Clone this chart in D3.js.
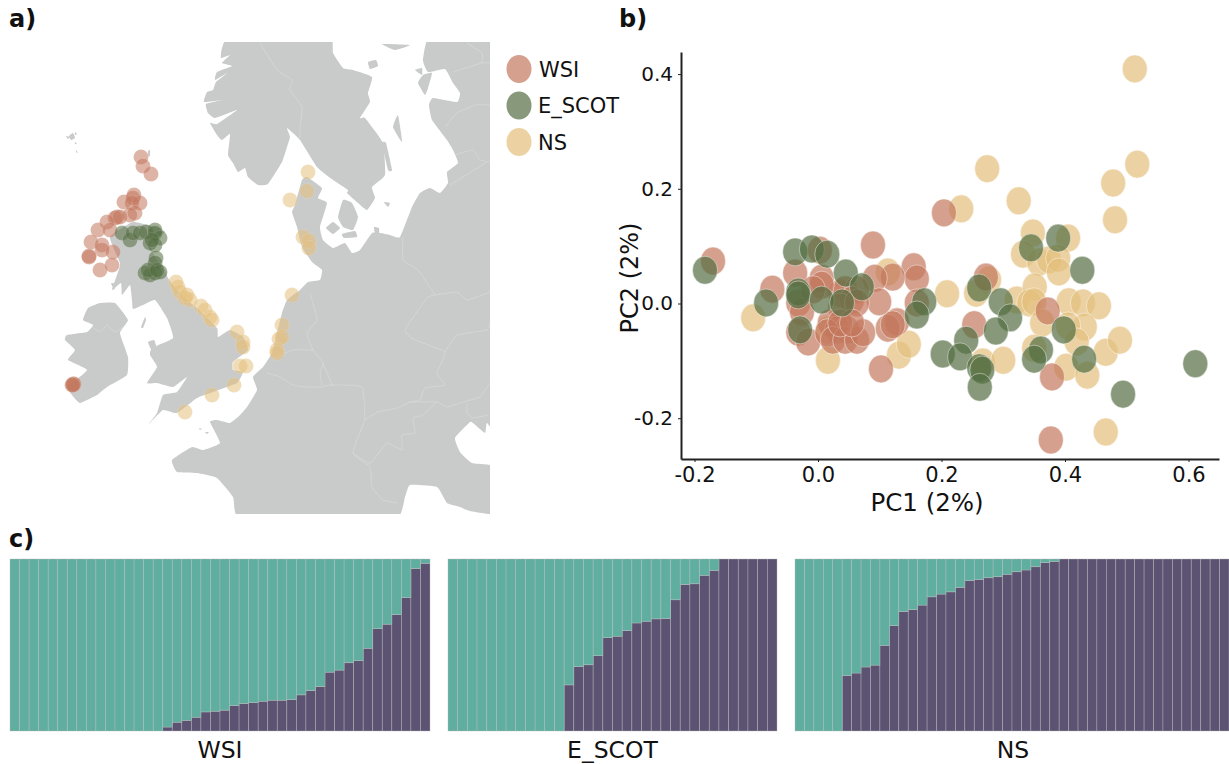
<!DOCTYPE html>
<html>
<head>
<meta charset="utf-8">
<script src="https://cdn.jsdelivr.net/npm/d3@7"></script>
<style>
  html, body { margin: 0; padding: 0; background: #fff; }
  text { font-family: "DejaVu Sans", sans-serif; fill: #111; }
</style>
</head>
<body>
<svg id="fig" width="1229" height="764"></svg>
<script>
// groups
const groupNames = ['WSI', 'E_SCOT', 'NS'];
const groupColors = ['#c3775c', '#546d41', '#e4bf7c'];

// land outlines, in map grid units
const landScandinavia = [[222,-8],[212,6],[211,16],[220,13],[212,21],[222,24],[207,30],[205,38],[217,31],[206,40],[203,48],[197,50],[194,60],[212,58],[196,62],[198,71],[205,76],[227,68],[207,82],[200,81],[207,93],[212,98],[220,92],[218,113],[223,121],[228,130],[235,126],[238,135],[248,143],[258,142],[272,120],[277,105],[280,95],[277,86],[290,98],[307,125],[323,138],[338,148],[337,151],[348,161],[357,168],[365,156],[362,145],[375,133],[373,101],[355,76],[350,76],[360,60],[358,51],[362,35],[343,28],[333,26],[323,11],[318,-8]];
const landContinent = [[421,-8],[413,18],[418,30],[435,27],[443,41],[450,51],[447,60],[423,56],[419,63],[422,78],[437,98],[443,108],[448,121],[437,130],[438,141],[430,151],[420,146],[410,151],[402,165],[390,195],[380,193],[370,191],[362,191],[350,208],[342,211],[335,201],[323,206],[313,198],[310,185],[317,161],[308,156],[312,146],[297,135],[292,138],[285,163],[282,170],[287,185],[292,205],[302,220],[312,228],[310,238],[298,240],[290,248],[277,258],[272,271],[267,291],[262,311],[253,325],[243,335],[247,348],[237,365],[230,373],[220,381],[207,378],[200,380],[210,401],[193,408],[182,405],[162,418],[167,430],[187,431],[207,436],[223,455],[233,480],[382,480],[395,455],[400,443],[427,445],[437,461],[450,465],[460,469],[492,472],[492,426],[462,421],[450,410],[445,396],[460,380],[463,381],[475,391],[477,381],[492,381],[492,-8]];
const landBritain = [[123,180],[148,186],[155,190],[140,203],[148,220],[155,228],[158,236],[167,248],[177,258],[187,266],[207,286],[208,295],[220,288],[233,295],[238,308],[223,320],[223,328],[233,330],[227,341],[203,350],[187,356],[167,371],[153,368],[138,383],[147,371],[153,353],[167,350],[177,335],[163,345],[147,341],[137,341],[147,325],[140,313],[142,306],[163,296],[157,276],[145,258],[133,263],[123,267],[122,258],[120,243],[112,253],[111,241],[102,248],[108,230],[110,221],[100,195]];
const landIreland = [[90,261],[105,261],[118,278],[110,291],[118,315],[117,333],[97,345],[87,353],[70,361],[62,353],[58,345],[77,328],[58,318],[65,308],[55,298],[57,293],[77,290],[83,283],[73,278],[78,266]];
const landIslands = [
  [[59,94],[63,91],[65,96],[61,98]], [[56,94],[60,95],[58,97]], [[65,90],[67,92],[65,93]], [[65,100],[67,102],[65,102]], [[66,108],[68,111],[66,110]],
  [[138,109],[140,108],[140,114],[138,114]], [[131,285],[135,275],[136,278],[133,286]], [[138,300],[144,298],[146,304],[141,307]],
  [[189,386],[192,387],[190,388]], [[195,390],[199,390],[197,392]],
  [[328,175],[333,158],[342,161],[348,175],[343,188],[333,185]], [[316,186],[323,180],[330,186],[323,192]], [[332,192],[345,189],[347,195],[334,196]],
  [[383,85],[388,73],[392,100]], [[372,101],[376,101],[382,128],[378,128]], [[374,160],[380,161],[378,165]], [[364,185],[369,186],[369,193],[365,192]],
  [[408,41],[413,33],[422,31],[418,46],[415,53]], [[405,28],[412,26],[412,33]], [[358,20],[366,18],[368,24],[360,27]], [[372,2],[400,3],[385,8]], [[101,241],[106,242],[104,248]]
];
const borderLines = [
  [[250,1],[267,28],[282,38],[280,48],[292,65],[290,85],[290,96]],
  [[457,1],[472,11],[472,21]], [[443,30],[472,21],[480,21]],
  [[435,85],[447,71],[465,63],[480,63]], [[445,113],[463,108],[470,118],[480,120]], [[440,143],[477,120]],
  [[393,195],[393,218],[408,228],[425,253]],
  [[425,253],[417,256],[395,288],[405,298],[435,310],[427,331],[435,343],[415,346],[410,358],[400,360],[387,366],[368,370],[355,378]],
  [[425,253],[447,250],[457,258],[480,250]], [[435,310],[447,293],[477,288],[480,280]],
  [[400,360],[427,360],[437,365],[453,360],[470,355],[480,341]],
  [[355,378],[343,411],[360,425],[362,445],[373,458],[387,461]],
  [[343,411],[360,421],[377,401],[392,408],[392,393],[405,391],[403,376],[413,373],[427,360]],
  [[457,361],[457,371],[463,376],[478,373]],
  [[257,331],[270,335],[283,343],[297,345],[310,345],[322,343],[352,345],[355,378]],
  [[300,251],[302,258],[307,278],[297,291],[303,308],[313,321],[310,330],[312,343]], [[313,321],[322,343]],
  [[263,316],[283,308],[303,308]],
  [[82,285],[90,290],[97,283],[105,290],[113,285]]
];

// sample locations, in map grid units
const mapWsi = [[131,115],[133,124],[141,132],[124,153],[114,160],[123,156],[130,161],[122,161],[125,171],[120,173],[107,175],[105,176],[97,180],[110,175],[88,188],[100,188],[81,200],[92,203],[92,208],[103,210],[79,214],[79,215],[90,228],[102,223],[63,342],[64,342],[62,343],[63,343]];
const mapEscot = [[112,191],[120,198],[123,191],[130,191],[136,190],[145,188],[145,191],[150,196],[140,201],[145,203],[142,198],[146,216],[145,221],[135,231],[140,233],[145,231],[150,230],[138,228],[147,228]];
const mapNs = [[166,240],[168,245],[170,250],[175,256],[180,258],[177,253],[191,264],[195,268],[200,275],[202,278],[227,290],[233,300],[233,305],[230,324],[236,324],[224,343],[202,353],[175,370],[282,253],[272,283],[269,297],[272,295],[267,308],[267,311],[298,130],[297,149],[280,158],[293,195],[299,199],[299,206]];

// PCA scores [PC1, PC2]
const pcaWsi = [[-.170,.074],[-.074,.025],[-.037,.053],[.003,.093],[.089,.102],[.204,.158],[.155,.064],[.160,.043],[.121,.046],[.092,.044],[.099,.003],[.006,.044],[-.032,.001],[-.026,-.015],[-.032,-.050],[-.016,-.067],[.160,.001],[.128,-.032],[.113,-.043],[.121,-.037],[.102,-.114],[.036,.018],[.044,.024],[.063,.024],[.055,.006],[.036,-.006],[.063,.001],[.019,-.034],[.031,-.046],[.047,-.046],[.015,-.051],[.024,-.064],[.044,-.064],[.063,-.064],[.073,-.051],[.036,-.034],[.055,-.034],[.006,.032],[-.008,.024],[.272,.046],[.253,-.037],[.372,-.013],[.379,-.128],[.377,-.238]];
const pcaEscot = [[-.183,.058],[-.084,.001],[-.037,.090],[-.010,.095],[.015,.086],[.045,.053],[.071,.029],[-.032,.020],[-.032,.015],[.006,.006],[-.029,-.046],[.039,.001],[.172,.003],[.160,-.020],[.261,.027],[.296,.003],[.311,-.025],[.288,-.048],[.240,-.064],[.202,-.088],[.230,-.093],[.261,-.112],[.266,-.116],[.262,-.146],[.345,.097],[.389,.114],[.428,.058],[.398,-.046],[.361,-.081],[.350,-.097],[.431,-.097],[.494,-.158],[.611,-.105]];
const pcaNs = [[-.105,-.025],[.016,-.099],[.113,.055],[.131,-.090],[.147,-.071],[.209,.017],[.016,-.046],[.232,.165],[.274,.235],[.325,.179],[.348,.123],[.405,.114],[.332,.086],[.358,.072],[.374,.076],[.389,.079],[.390,.055],[.277,.041],[.256,.018],[.322,.006],[.351,.029],[.342,.001],[.350,.003],[.406,.003],[.429,.001],[.455,-.004],[.363,-.034],[.432,-.041],[.405,-.039],[.419,-.067],[.350,-.078],[.466,-.085],[.489,-.064],[.402,-.111],[.436,-.125],[.267,-.102],[.300,-.099],[.466,-.224],[.481,.146],[.478,.210],[.517,.243],[.513,.409]];
const pcTicksX = [-.2, 0, .2, .4, .6];
const pcTicksY = [-.2, 0, .2, .4];

// admixture proportions of the second cluster, sorted per individual
const admixWsi = [0,0,0,0,0,0,0,0,0,0,0,0,0,0,0,0,.023,.051,.062,.080,.111,.115,.121,.148,.160,.165,.173,.179,.179,.183,.210,.235,.259,.342,.354,.397,.409,.481,.595,.621,.677,.776,.944,.975];
const admixEscot = [0,0,0,0,0,0,0,0,0,0,0,0,.268,.375,.385,.438,.543,.551,.584,.628,.638,.652,.654,.763,.852,.856,.905,.934,1,1,1,1,1,1];
const admixNs = [0,0,0,0,0,.323,.337,.372,.383,.498,.613,.695,.706,.732,.780,.796,.809,.835,.875,.881,.891,.897,.911,.926,.936,.955,.979,.986,1,1,1,1,1,1,1,1,1,1,1,1,1,1,1,1,1,1];

const svg = d3.select('#fig');

function addTag(label, x, y) {
  svg.append('text').attr('x', x).attr('y', y)
    .style('font-size', '24px').style('font-weight', 'bold').text(label);
}
addTag('a)', 9, 27);
addTag('b)', 619, 27);
addTag('c)', 9, 547);

function drawMap() {
  const mapX = d3.scaleLinear().domain([0, 480]).range([10, 490]);
  const mapY = d3.scaleLinear().domain([0, 472]).range([42, 514]);
  const coast = d3.line().x(d => mapX(d[0])).y(d => mapY(d[1])).curve(d3.curveCardinalClosed.tension(0.6));
  const border = d3.line().x(d => mapX(d[0])).y(d => mapY(d[1])).curve(d3.curveCardinal.tension(0.6));

  svg.append('clipPath').attr('id', 'mapClip').append('rect')
    .attr('x', mapX(0)).attr('y', mapY(0))
    .attr('width', mapX(480) - mapX(0)).attr('height', mapY(472) - mapY(0));

  const map = svg.append('g').attr('clip-path', 'url(#mapClip)');

  const polygons = [landScandinavia, landContinent, landBritain, landIreland].concat(landIslands);
  map.selectAll('path.land').data(polygons).enter().append('path')
    .attr('class', 'land')
    .attr('d', coast)
    .attr('fill', '#c9cbca');

  map.selectAll('path.border').data(borderLines).enter().append('path')
    .attr('class', 'border')
    .attr('d', border)
    .attr('fill', 'none')
    .attr('stroke', '#dbdcdb')
    .attr('stroke-width', 0.6);

  [mapWsi, mapEscot, mapNs].forEach(function(points, i) {
    map.selectAll('circle.g' + i).data(points).enter().append('circle')
      .attr('class', 'g' + i)
      .attr('cx', d => mapX(d[0]))
      .attr('cy', d => mapY(d[1]))
      .attr('r', 7.5)
      .attr('fill', groupColors[i])
      .attr('fill-opacity', 0.55)
      .attr('stroke', '#fff')
      .attr('stroke-opacity', 0.2)
      .attr('stroke-width', 0.6);
  });

  // legend
  const legendY = d3.scalePoint().domain(groupNames).range([69, 142]);
  const legend = svg.append('g');
  legend.selectAll('ellipse').data(groupNames).enter().append('ellipse')
    .attr('cx', 519)
    .attr('cy', d => legendY(d))
    .attr('rx', 12.5)
    .attr('ry', 14)
    .attr('fill', (d, i) => groupColors[i])
    .attr('fill-opacity', 0.7);
  legend.selectAll('text').data(groupNames).enter().append('text')
    .attr('x', (d, i) => i == 0 ? 539 : 538)
    .attr('y', (d, i) => legendY(d) + (i == 1 ? 7 : 8))
    .style('font-size', '21px')
    .text(d => d);
}

function drawPca() {
  const x = d3.scaleLinear().domain([-.2219, .6494]).range([681, 1219]);
  const y = d3.scaleLinear().domain([-.2711, .4385]).range([459, 52]);
  const fmt = v => d3.format('.1f')(v).replace('\u2212', '-');

  // NS underneath, the others on top
  const layers = [[pcaNs, 2], [pcaWsi, 0], [pcaEscot, 1]];
  layers.forEach(function(layer) {
    svg.append('g').selectAll('ellipse').data(layer[0]).enter().append('ellipse')
      .attr('cx', d => x(d[0]))
      .attr('cy', d => y(d[1]))
      .attr('rx', 12.5)
      .attr('ry', 14)
      .attr('fill', groupColors[layer[1]])
      .attr('fill-opacity', 0.7)
      .attr('stroke', '#fff')
      .attr('stroke-opacity', 0.45)
      .attr('stroke-width', 1);
  });

  const xAxis = svg.append('g').attr('transform', 'translate(0,459)')
    .call(d3.axisBottom(x).tickValues(pcTicksX).tickFormat(fmt).tickSize(3).tickSizeOuter(0).tickPadding(5));
  const yAxis = svg.append('g').attr('transform', 'translate(681,0)')
    .call(d3.axisLeft(y).tickValues(pcTicksY).tickFormat(fmt).tickSize(3).tickSizeOuter(0).tickPadding(5));
  [xAxis, yAxis].forEach(function(axis, i) {
    axis.selectAll('.domain').attr('stroke', '#222').attr('stroke-width', 2);
    axis.selectAll('.tick line').attr('stroke', '#222');
    axis.selectAll('text').style('font-size', i == 0 ? '21px' : '20px').attr('fill', '#111').style('font-family', '"DejaVu Sans", sans-serif');
  });

  svg.append('text').attr('x', 927).attr('y', 511).attr('text-anchor', 'middle')
    .style('font-size', '24.5px').text('PC1 (2%)');
  svg.append('text').attr('transform', 'translate(638,278) rotate(-90)').attr('text-anchor', 'middle')
    .style('font-size', '24px').text('PC2 (2%)');
}

function drawAdmix() {
  const y = d3.scaleLinear().domain([0, 1]).range([731, 559]);
  const panels = [
    { name: groupNames[0], values: admixWsi, range: [10, 430] },
    { name: groupNames[1], values: admixEscot, range: [448, 777] },
    { name: groupNames[2], values: admixNs, range: [795, 1229] }
  ];

  panels.forEach(function(panel) {
    const x = d3.scaleBand().domain(d3.range(panel.values.length)).range(panel.range);
    const rows = panel.values.map(v => ({ k2: v, k1: 1 - v }));
    const stacked = d3.stack().keys(['k2', 'k1'])(rows);
    const fills = { k1: '#5fae9f', k2: '#5c5272' };

    const g = svg.append('g');
    stacked.forEach(function(series) {
      g.selectAll('rect.' + series.key).data(series).enter().append('rect')
        .attr('class', series.key)
        .attr('x', (d, i) => x(i))
        .attr('y', d => y(d[1]))
        .attr('width', x.bandwidth())
        .attr('height', d => y(d[0]) - y(d[1]))
        .attr('fill', fills[series.key])
        .attr('stroke', '#bdbdbd')
        .attr('stroke-opacity', 0.55)
        .attr('stroke-width', 0.7);
    });

    svg.append('text')
      .attr('x', (panel.range[0] + panel.range[1]) / 2 - (panel.name == 'NS' ? -1 : 0))
      .attr('y', 758)
      .attr('text-anchor', 'middle')
      .style('font-size', '23.5px')
      .text(panel.name);
  });
}

drawMap();
drawPca();
drawAdmix();
</script>
</body>
</html>
